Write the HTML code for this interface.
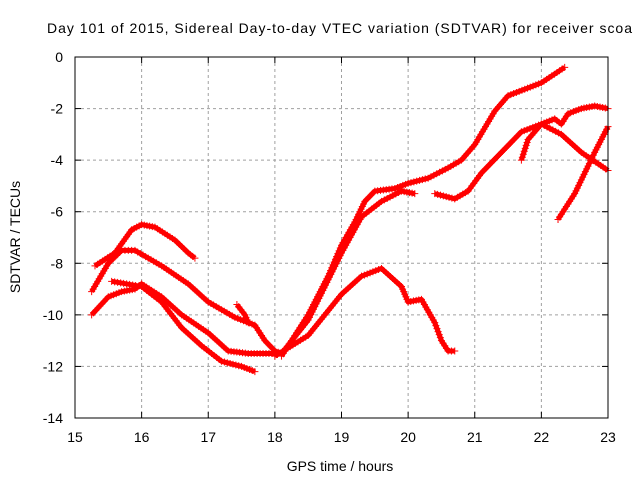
<!DOCTYPE html>
<html><head><meta charset="utf-8"><style>
body{margin:0;background:#fff;}
svg{display:block;font-family:"Liberation Sans",sans-serif;}
</style></head><body>
<svg id="chart" width="640" height="480">
<rect width="640" height="480" fill="#fff"/>
<text x="47" y="33" font-size="14" textLength="585" lengthAdjust="spacing">Day 101 of 2015, Sidereal Day-to-day VTEC variation (SDTVAR) for receiver scoa</text>
<text x="340" y="471" font-size="14" text-anchor="middle">GPS time / hours</text>
<text transform="translate(20,237) rotate(-90)" font-size="14" text-anchor="middle">SDTVAR / TECUs</text>
<g id="grid"></g><g id="ticks"></g><g id="series"></g>
<rect x="75" y="57" width="533" height="361" fill="none" stroke="#000" stroke-width="1"/>
</svg>
<script>
const xTicks=[15,16,17,18,19,20,21,22,23];
const yTicks=[0,-2,-4,-6,-8,-10,-12,-14];
const traceA=[[15.3,-8.1],[15.6,-7.6],[15.85,-6.7],[16.0,-6.5],[16.2,-6.6],[16.5,-7.1],[16.7,-7.6],[16.8,-7.8]];
const traceB=[[15.25,-9.1],[15.5,-8.0],[15.7,-7.5],[15.9,-7.5],[16.3,-8.1],[16.7,-8.8],[17.0,-9.5],[17.4,-10.1],[17.7,-10.4],[17.85,-11.0],[18.0,-11.4],[18.1,-11.5]];
const traceB2=[[17.43,-9.6],[17.55,-10.0],[17.6,-10.3]];
const traceC=[[15.25,-10.0],[15.5,-9.3],[15.7,-9.1],[15.9,-9.0],[16.0,-8.8],[16.3,-9.3],[16.6,-10.0],[17.0,-10.7],[17.3,-11.4],[17.6,-11.5],[18.0,-11.5]];
const traceD=[[15.55,-8.7],[16.0,-8.9],[16.3,-9.5],[16.6,-10.5],[16.9,-11.2],[17.2,-11.8],[17.5,-12.0],[17.7,-12.2]];
const traceE=[[18.1,-11.6],[18.5,-10.0],[18.8,-8.5],[19.0,-7.3],[19.2,-6.4],[19.35,-5.6],[19.5,-5.2],[19.8,-5.1],[20.0,-4.9],[20.3,-4.7],[20.6,-4.3],[20.8,-4.0],[21.0,-3.4],[21.3,-2.1],[21.5,-1.5],[22.0,-1.0],[22.35,-0.4]];
const traceF=[[18.1,-11.5],[18.5,-10.2],[19.0,-7.6],[19.3,-6.2],[19.6,-5.6],[19.9,-5.2],[20.1,-5.3]];
const traceG=[[18.0,-11.6],[18.5,-10.8],[19.0,-9.2],[19.3,-8.5],[19.6,-8.2],[19.9,-8.9],[20.0,-9.5],[20.2,-9.4],[20.4,-10.3],[20.5,-11.0],[20.6,-11.4],[20.7,-11.4]];
const traceH=[[20.4,-5.3],[20.7,-5.5],[20.9,-5.2],[21.1,-4.5],[21.4,-3.7],[21.7,-2.9],[22.0,-2.6],[22.3,-3.0],[22.6,-3.7],[23.0,-4.4]];
const traceI=[[21.7,-4.0],[21.8,-3.2],[22.0,-2.6],[22.2,-2.4],[22.3,-2.6],[22.4,-2.2],[22.6,-2.0],[22.8,-1.9],[23.0,-2.0]];
const traceJ=[[22.25,-6.3],[22.5,-5.3],[22.8,-3.7],[23.0,-2.7]];
const traces=[traceA,traceB,traceB2,traceC,traceD,traceE,traceF,traceG,traceH,traceI,traceJ];
const NS="http://www.w3.org/2000/svg";
const X=h=>75+(h-15)*533/8;
const Y=v=>57-v*361/14;
function mk(tag,attrs,parent){const e=document.createElementNS(NS,tag);for(const k in attrs)e.setAttribute(k,attrs[k]);parent.appendChild(e);return e;}
const grid=document.getElementById('grid'),ticks=document.getElementById('ticks'),series=document.getElementById('series');
xTicks.forEach(t=>{const x=X(t);
 if(t>15&&t<23){const g=mk('line',{x1:x,y1:57,x2:x,y2:418,stroke:'#a0a0a0','stroke-dasharray':'3,3'},grid);
 
 }
 mk('line',{x1:x,y1:418,x2:x,y2:412,stroke:'#000'},ticks);mk('line',{x1:x,y1:57,x2:x,y2:63,stroke:'#000'},ticks);
 const tl=mk('text',{x:x,y:442,'font-size':14,'text-anchor':'middle'},ticks);tl.textContent=t;
 
 });
yTicks.forEach(t=>{const y=Y(t);
 if(t<0&&t>-14){const g=mk('line',{x1:75,y1:y,x2:608,y2:y,stroke:'#a0a0a0','stroke-dasharray':'3,3'},grid);
 
 }
 mk('line',{x1:75,y1:y,x2:81,y2:y,stroke:'#000'},ticks);mk('line',{x1:608,y1:y,x2:602,y2:y,stroke:'#000'},ticks);
 const tl=mk('text',{x:63,y:y+5,'font-size':14,'text-anchor':'end'},ticks);tl.textContent=t;
 
 });
traces.forEach((tr,i)=>{
 const g=mk('g',{},series);
 
 
 const pts=tr.map(p=>X(p[0])+','+Y(p[1])).join(' ');
 mk('polyline',{points:pts,fill:'none',stroke:'#f00','stroke-width':5,'stroke-linejoin':'round'},g);
 let d='';
 for(let k=0;k<tr.length-1;k++){const x1=X(tr[k][0]),y1=Y(tr[k][1]),x2=X(tr[k+1][0]),y2=Y(tr[k+1][1]);
  const n=Math.max(1,Math.round(Math.hypot(x2-x1,y2-y1)/3));
  for(let s=0;s<n;s++){const x=x1+(x2-x1)*s/n,y=y1+(y2-y1)*s/n;d+=`M${x-3.5},${y}h7M${x},${y-3.5}v7`;}}
 const l=tr[tr.length-1];d+=`M${X(l[0])-3.5},${Y(l[1])}h7M${X(l[0])},${Y(l[1])-3.5}v7`;
 mk('path',{d:d,stroke:'#f00','stroke-width':1,fill:'none'},g);
});
</script>
</body></html>
